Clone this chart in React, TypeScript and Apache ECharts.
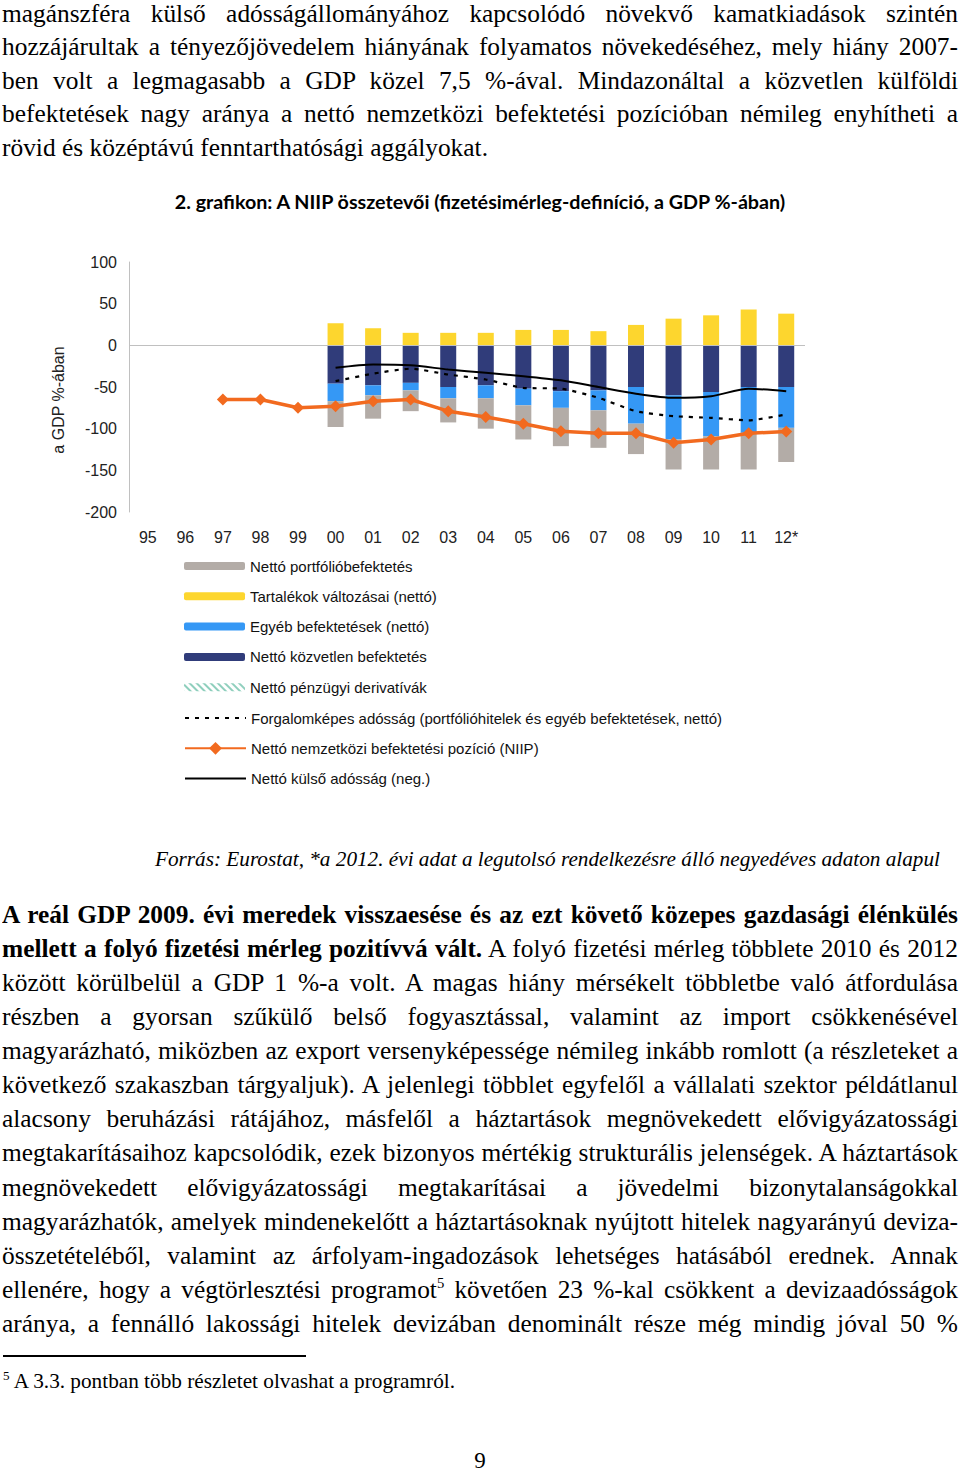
import React, { useEffect, useLayoutEffect, useRef, useMemo } from "react";
import * as echarts from "echarts";

// ---------- data ----------
const years = ["95", "96", "97", "98", "99", "00", "01", "02", "03", "04", "05", "06", "07", "08", "09", "10", "11", "12*"];
const fdi = [null, null, null, null, null, -46, -48, -45, -50, -48, -52, -55, -54, -50, -60, -56, -50, -50];
const otherInv = [null, null, null, null, null, -21, -12, -9, -13.5, -15.5, -20, -20, -24, -44, -53, -53, -55, -49];
const portfolio = [null, null, null, null, null, -31, -28, -25, -29, -36.5, -41, -46, -45, -36.5, -36, -40, -44, -41];
const reserves = [null, null, null, null, null, 26.5, 20.5, 15, 15, 15, 18.5, 18.5, 17, 24.5, 32, 36, 43, 38];
const derivatives = [null, null, null, null, null, 0, 0, 0, 0, 0, 0, 0, 0, 0, 0, 0, 0, 0];
const tradableDebt = [null, null, null, null, null, -43, -34, -28, -35, -41, -51, -52, -63, -79, -85, -87, -90, -83];
const niip = [null, null, -65, -65, -75, -73, -67, -65, -79, -86, -94, -103, -105.5, -105.5, -117, -113, -105.5, -103.5];
const netExtDebt = [null, null, null, null, null, -27, -23, -24, -29, -33, -37, -42, -50, -58, -63, -61, -52, -55];

const names = {
  portfolio: "Nettó portfólióbefektetés",
  reserves: "Tartalékok változásai (nettó)",
  other: "Egyéb befektetések (nettó)",
  fdi: "Nettó közvetlen befektetés",
  deriv: "Nettó pénzügyi derivatívák",
  tradable: "Forgalomképes adósság (portfólióhitelek és egyéb befektetések, nettó)",
  niip: "Nettó nemzetközi befektetési pozíció (NIIP)",
  debt: "Nettó külső adósság (neg.)",
};

const chartTitle = "2. grafikon: A NIIP összetevői (fizetésimérleg-definíció, a GDP %-ában)";
const yAxisName = "a GDP %-ában";

// ---------- page text ----------
const topPara = [
  "magánszféra külső adósságállományához kapcsolódó növekvő kamatkiadások szintén",
  "hozzájárultak a tényezőjövedelem hiányának folyamatos növekedéséhez, mely hiány 2007-",
  "ben volt a legmagasabb a GDP közel 7,5 %-ával. Mindazonáltal a közvetlen külföldi",
  "befektetések nagy aránya a nettó nemzetközi befektetési pozícióban némileg enyhítheti a",
  "rövid és középtávú fenntarthatósági aggályokat.",
];
const sourceText = "Forrás: Eurostat, *a 2012. évi adat a legutolsó rendelkezésre álló negyedéves adaton alapul";
const bottomPara = [
  "között körülbelül a GDP 1 %-a volt. A magas hiány mérsékelt többletbe való átfordulása",
  "részben a gyorsan szűkülő belső fogyasztással, valamint az import csökkenésével",
  "magyarázható, miközben az export versenyképessége némileg inkább romlott (a részleteket a",
  "következő szakaszban tárgyaljuk). A jelenlegi többlet egyfelől a vállalati szektor példátlanul",
  "alacsony beruházási rátájához, másfelől a háztartások megnövekedett elővigyázatossági",
  "megtakarításaihoz kapcsolódik, ezek bizonyos mértékig strukturális jelenségek. A háztartások",
  "megnövekedett elővigyázatossági megtakarításai a jövedelmi bizonytalanságokkal",
  "magyarázhatók, amelyek mindenekelőtt a háztartásoknak nyújtott hitelek nagyarányú deviza-",
  "összetételéből, valamint az árfolyam-ingadozások lehetséges hatásából erednek. Annak",
];

const SERIF = "'Liberation Serif', 'Times New Roman', serif";
const SANS = "'Liberation Sans', Arial, sans-serif";
const BODY = 26;

function Line(props: any) {
  const { cy, x = 2, w = 956, justify = true, fit = false, size = BODY, italic = false, bold = false, k = 1, children } = props;
  const ref = useRef<HTMLSpanElement>(null);
  useLayoutEffect(() => {
    const el = ref.current;
    if (!el) return;
    el.style.wordSpacing = "0px";
    el.style.transform = "none";
    const nat = el.getBoundingClientRect().width;
    let s = k;
    if (fit) s = w / nat;
    if (justify) {
      const n = (el.textContent || "").split(" ").length - 1;
      if (n > 0) el.style.wordSpacing = `${(w / s - nat) / n}px`;
    }
    el.style.transform = `scaleX(${s})`;
  });
  const lh = Math.round(size * 1.15);
  return (
    <span
      ref={ref}
      style={{
        position: "absolute",
        left: x,
        top: cy - lh / 2,
        fontFamily: SERIF,
        fontSize: size,
        lineHeight: `${lh}px`,
        whiteSpace: "pre",
        transformOrigin: "0 0",
        fontStyle: italic ? "italic" : "normal",
        fontWeight: bold ? "bold" : "normal",
        color: "#000",
      }}
    >
      {children}
    </span>
  );
}

function Chart() {
  const ref = useRef<HTMLDivElement>(null);
  useEffect(() => {
    const chart = echarts.init(ref.current!, null, { renderer: "svg" });
    const barBase = { type: "bar", stack: "total", barWidth: 16, silent: true };
    const legendText = { fontFamily: SANS, fontSize: 15, color: "#111", lineHeight: 16 };
    const hiddenSymbol = { color: "rgba(0,0,0,0)", borderWidth: 0, opacity: 0 };
    const option: any = {
      animation: false,
      title: {
        text: chartTitle,
        left: "center",
        top: 16,
        textStyle: { fontFamily: "Lato", fontWeight: "bold", fontSize: 19.7, color: "#000" },
      },
      grid: { left: 129, top: 92, width: 676, height: 250 },
      legend: [
        {
          orient: "vertical",
          left: 179,
          top: 383,
          itemWidth: 61,
          itemHeight: 8,
          itemGap: 14.3,
          selectedMode: false,
          data: [names.portfolio, names.reserves, names.other, names.fdi, names.deriv],
          textStyle: legendText,
        },
        {
          orient: "vertical",
          left: 179,
          top: 535,
          itemWidth: 61,
          itemHeight: 16,
          itemGap: 14.3,
          selectedMode: false,
          data: [
            { name: names.tradable, itemStyle: hiddenSymbol },
            { name: names.niip },
            { name: names.debt, itemStyle: hiddenSymbol },
          ],
          textStyle: legendText,
        },
      ],
      graphic: [
        {
          type: "text",
          x: 58,
          y: 230,
          rotation: Math.PI / 2,
          style: {
            text: yAxisName,
            fontFamily: SANS,
            fontSize: 16,
            fill: "#222",
            align: "center",
            verticalAlign: "middle",
          },
        },
      ],
      xAxis: {
        type: "category",
        data: years,
        axisLine: { show: false },
        axisTick: { show: false },
        axisLabel: { fontFamily: SANS, fontSize: 16, color: "#222", margin: 17 },
      },
      yAxis: {
        type: "value",
        min: -200,
        max: 100,
        interval: 50,
        axisLine: { show: true, lineStyle: { color: "#c0c0c0", width: 1 } },
        axisTick: { show: false },
        splitLine: { show: false },
        axisLabel: { fontFamily: SANS, fontSize: 16, color: "#222", margin: 12 },
      },
      series: [
        {
          ...barBase,
          name: names.fdi,
          data: fdi,
          itemStyle: { color: "#303c7a" },
          markLine: {
            silent: true,
            symbol: "none",
            label: { show: false },
            lineStyle: { color: "#c0c0c0", width: 1, type: "solid" },
            data: [{ yAxis: 0 }],
          },
        },
        { ...barBase, name: names.other, data: otherInv, itemStyle: { color: "#3598f5" } },
        { ...barBase, name: names.portfolio, data: portfolio, itemStyle: { color: "#b3aca7" } },
        { ...barBase, name: names.reserves, data: reserves, itemStyle: { color: "#fdd62e" } },
        {
          ...barBase,
          name: names.deriv,
          data: derivatives,
          itemStyle: {
            color: "#ffffff",
            decal: {
              symbol: "rect",
              dashArrayX: [1, 0],
              dashArrayY: [2, 3],
              rotation: Math.PI / 4,
              color: "#8fcfbd",
            },
          },
        },
        {
          type: "line",
          name: names.tradable,
          data: tradableDebt,
          symbol: "none",
          smooth: 0.2,
          lineStyle: { color: "#000", width: 2.2, type: [4, 6] },
          itemStyle: { color: "#000" },
          z: 3,
          silent: true,
        },
        {
          type: "line",
          name: names.debt,
          data: netExtDebt,
          symbol: "none",
          smooth: 0.25,
          lineStyle: { color: "#000", width: 2 },
          itemStyle: { color: "#000" },
          z: 3,
          silent: true,
        },
        {
          type: "line",
          name: names.niip,
          data: niip,
          symbol: "diamond",
          symbolSize: 12,
          lineStyle: { color: "#f26a1f", width: 3.5 },
          itemStyle: { color: "#f26a1f" },
          z: 4,
          silent: true,
        },
      ],
    };
    chart.setOption(option);
    return () => chart.dispose();
  }, []);
  return <div ref={ref} style={{ position: "absolute", left: 0, top: 170, width: 960, height: 660 }} />;
}

export default function App() {
  const k = useMemo(() => {
    const ctx = document.createElement("canvas").getContext("2d")!;
    ctx.font = `${BODY}px 'Liberation Serif'`;
    return 486 / ctx.measureText(topPara[4]).width;
  }, []);
  const topY = [14, 47, 81, 114, 148];
  const botY = [983, 1017, 1051, 1085, 1119, 1153, 1188, 1222, 1256];
  return (
    <div style={{ position: "absolute", left: 0, top: 0, width: 960, height: 1473, background: "#fff", overflow: "hidden" }}>
      {topPara.map((t, i) => (
        <Line key={"t" + i} cy={topY[i]} k={k} justify={i < 4}>
          {t}
        </Line>
      ))}
      <Chart />
      <Line cy={858} x={155} w={785} size={22} italic fit justify={false}>
        {sourceText}
      </Line>
      <Line cy={915} k={k} bold>
        A reál GDP 2009. évi meredek visszaesése és az ezt követő közepes gazdasági élénkülés
      </Line>
      <Line cy={949} k={k}>
        <b>mellett a folyó fizetési mérleg pozitívvá vált.</b> A folyó fizetési mérleg többlete 2010 és 2012
      </Line>
      {bottomPara.map((t, i) => (
        <Line key={"b" + i} cy={botY[i]} k={k}>
          {t}
        </Line>
      ))}
      <Line cy={1290} k={k}>
        ellenére, hogy a végtörlesztési programot
        <sup style={{ fontSize: 15, lineHeight: 0, verticalAlign: "10px" }}>5</sup> követően 23 %-kal csökkent a devizaadósságok
      </Line>
      <Line cy={1324} k={k}>
        aránya, a fennálló lakossági hitelek devizában denominált része még mindig jóval 50 %
      </Line>
      <div style={{ position: "absolute", left: 3, top: 1355, width: 303, height: 2, background: "#000" }} />
      <Line cy={1381} x={3} w={452} size={21} fit justify={false}>
        <sup style={{ fontSize: 13, lineHeight: 0, verticalAlign: "8px" }}>5</sup> A 3.3. pontban több részletet olvashat a programról.
      </Line>
      <span
        style={{
          position: "absolute",
          left: 0,
          width: 960,
          top: 1448,
          textAlign: "center",
          fontFamily: SERIF,
          fontSize: 23,
          lineHeight: "26px",
        }}
      >
        9
      </span>
    </div>
  );
}
